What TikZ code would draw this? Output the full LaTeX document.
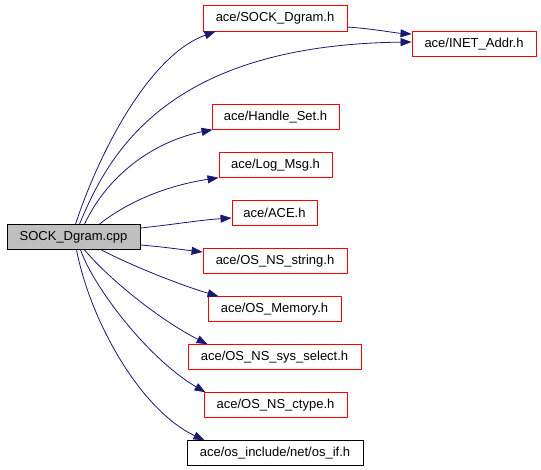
\documentclass[tikz,border=0pt]{standalone}
\usepackage{fontspec}
\setmainfont{Liberation Sans}
\usetikzlibrary{arrows.meta}
\definecolor{edgeblue}{HTML}{191970}
\definecolor{boxgray}{HTML}{BFBFBF}
\tikzset{
  hdr/.style={draw=red, line width=0.9pt, minimum height=24.5pt, inner sep=0pt, font=\fontsize{13}{15}\selectfont},
  hdrblack/.style={hdr, draw=black},
  src/.style={hdr, draw=black, fill=boxgray},
  dep/.style={draw=edgeblue, line width=0.8pt, -{Triangle[length=11pt,width=8pt]}},
}
\begin{document}
\begin{tikzpicture}[x=1pt,y=-1pt]
\useasboundingbox (0,0) rectangle (541,469);
\node[src, minimum width=133pt, minimum height=25pt] (cpp) at (73.5,237) {SOCK\_Dgram.cpp};
\node[hdr, minimum width=144pt, minimum height=26pt] (sockh) at (275,18) {ace/SOCK\_Dgram.h};
\node[hdr, minimum width=124pt] (inet) at (474,44) {ace/INET\_Addr.h};
\node[hdr, minimum width=127pt] (handle) at (275.5,117) {ace/Handle\_Set.h};
\node[hdr, minimum width=113pt] (logmsg) at (275.5,165) {ace/Log\_Msg.h};
\node[hdr, minimum width=85pt] (ace) at (274.5,213) {ace/ACE.h};
\node[hdr, minimum width=144pt] (string) at (275,261) {ace/OS\_NS\_string.h};
\node[hdr, minimum width=133pt] (memory) at (274.5,309) {ace/OS\_Memory.h};
\node[hdr, minimum width=173pt] (select) at (274.5,357) {ace/OS\_NS\_sys\_select.h};
\node[hdr, minimum width=143pt] (ctype) at (275.5,405) {ace/OS\_NS\_ctype.h};
\node[hdrblack, minimum width=176pt] (osif) at (275,453) {ace/os\_include/net/os\_if.h};

\draw[dep] ([xshift=69pt]cpp.north west) .. controls (100,150) and (150,55) .. ([xshift=13pt]sockh.south west);
\draw[dep] ([xshift=73pt]cpp.north west) .. controls (110,150) and (170,45) .. ([yshift=2pt]inet.west);
\draw[dep] ([yshift=-9pt]sockh.east) .. controls (375,29) and (395,33) .. ([yshift=10pt]inet.west);
\draw[dep] ([xshift=78pt]cpp.north west) .. controls (110,170) and (160,140) .. ([xshift=1pt]handle.south west);
\draw[dep] ([xshift=93pt]cpp.north west) .. controls (130,200) and (170,185) .. (logmsg.south west);
\draw[dep] ([yshift=9pt]cpp.east) .. controls (170,225) and (200,220) .. ([yshift=-5pt]ace.west);
\draw[dep] ([yshift=-8pt]cpp.east) .. controls (165,247) and (185,250) .. ([yshift=9pt]string.west);
\draw[dep] ([xshift=95pt]cpp.south west) .. controls (130,265) and (180,285) .. ([xshift=11pt]memory.north west);
\draw[dep] ([xshift=78pt]cpp.south west) .. controls (110,280) and (160,320) .. ([xshift=20pt]select.north west);
\draw[dep] ([xshift=74pt]cpp.south west) .. controls (95,290) and (150,360) .. ([xshift=2pt]ctype.north west);
\draw[dep] ([xshift=70pt]cpp.south west) .. controls (90,320) and (140,410) .. ([xshift=18pt]osif.north west);
\end{tikzpicture}
\end{document}
